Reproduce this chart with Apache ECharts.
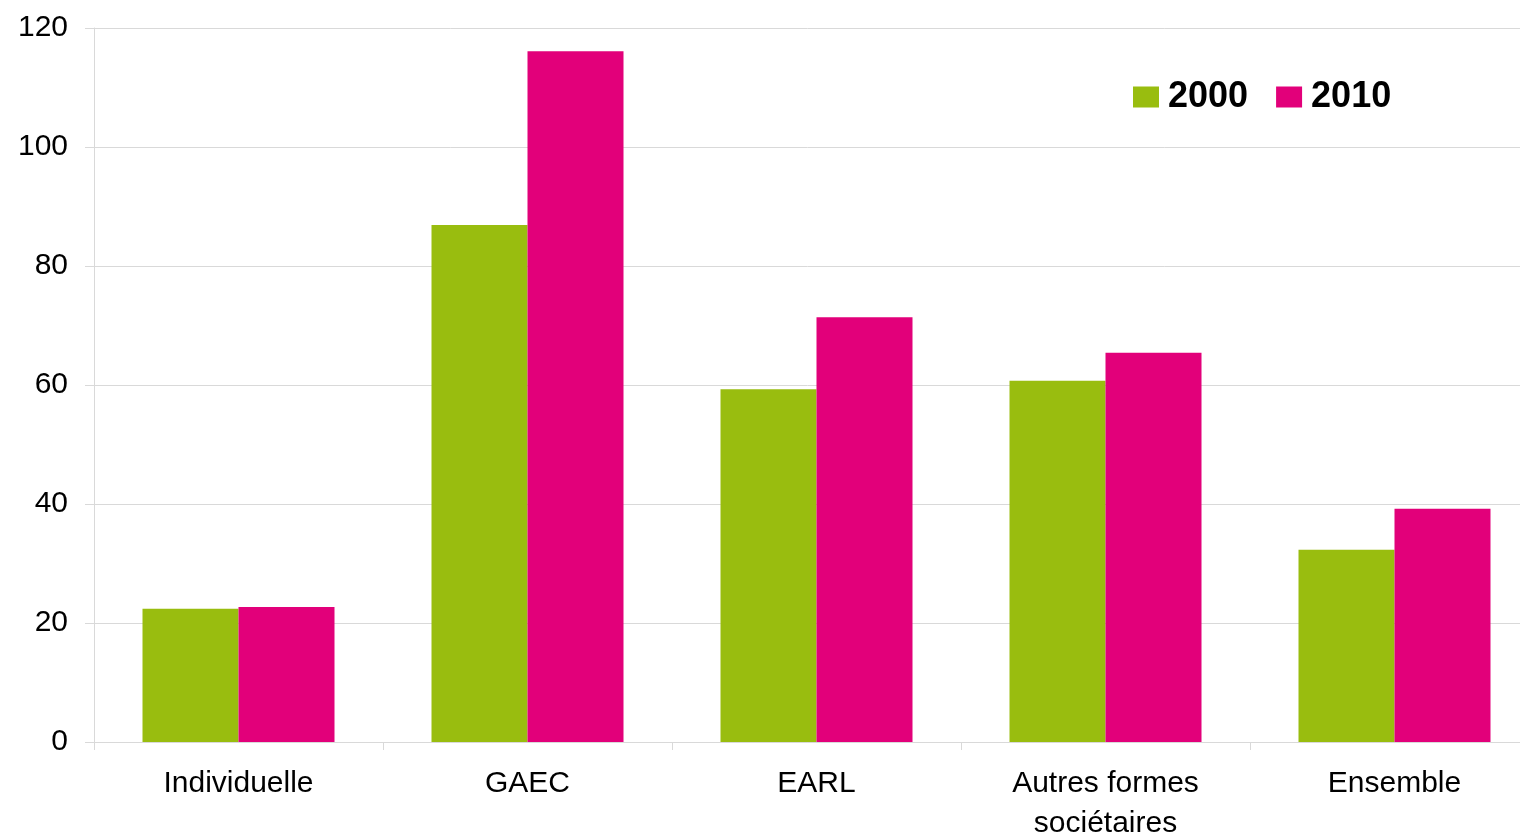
<!DOCTYPE html>
<html><head><meta charset="utf-8">
<script src="https://cdn.jsdelivr.net/npm/echarts@6/dist/echarts.min.js"></script>
<style>html,body{margin:0;padding:0;background:#fff}#c{width:1520px;height:834px}</style>
</head><body><div id="c"></div>
<script>
const categories = ['Individuelle', 'GAEC', 'EARL', 'Autres formes\nsociétaires', 'Ensemble'];
const values2000 = [22.4, 86.9, 59.3, 60.7, 32.3];
const values2010 = [22.7, 116.1, 71.4, 65.4, 39.2];
const seriesNames = ['2000', '2010'];

const chart = echarts.init(document.getElementById('c'));
const font = 'Liberation Sans, Arial, sans-serif';
chart.setOption({
  animation: false,
  backgroundColor: '#fff',
  grid: { left: 94, top: 28, width: 1445, height: 714, outerBoundsMode: 'none', containLabel: false },
  legend: {
    left: 1128, top: 74,
    itemWidth: 26, itemHeight: 21, itemGap: 28,
    icon: 'rect',
    textStyle: { fontFamily: font, fontSize: 36, fontWeight: 'bold', color: '#000', padding: [0,0,0,4] },
    data: seriesNames
  },
  xAxis: {
    type: 'category', data: categories,
    axisLine: { lineStyle: { color: '#d9d9d9', width: 1 } },
    axisTick: { show: true, length: 8, lineStyle: { color: '#d9d9d9' } },
    axisLabel: { fontFamily: font, fontSize: 30, color: '#000', margin: 22, lineHeight: 40 }
  },
  yAxis: {
    type: 'value', min: 0, max: 120, interval: 20,
    axisLine: { show: true, lineStyle: { color: '#d9d9d9', width: 1 } },
    axisTick: { show: true, length: 9, lineStyle: { color: '#d9d9d9' } },
    splitLine: { lineStyle: { color: '#d9d9d9', width: 1 } },
    axisLabel: { fontFamily: font, fontSize: 30, color: '#000', margin: 26 }
  },
  series: [
    { name: seriesNames[0], type: 'bar', data: values2000, barWidth: 96, barGap: '0%', itemStyle: { color: '#99BD0F' } },
    { name: seriesNames[1], type: 'bar', data: values2010, barWidth: 96, barGap: '0%', itemStyle: { color: '#E2007A' } }
  ]
});
</script></body></html>
